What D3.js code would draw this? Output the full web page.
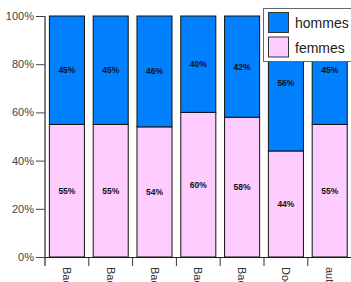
<!DOCTYPE html>
<html><head><meta charset="utf-8">
<script src="https://cdn.jsdelivr.net/npm/d3@7/dist/d3.min.js"></script>
<style>body{margin:0;background:#fff;overflow:hidden}svg{display:block}</style>
</head><body>
<script>
const categories = ["Bac", "Bac+2", "Bac+3", "Bac+4", "Bac+5", "Doctorat", "autre"];
const femmes = [55, 55, 54, 60, 58, 44, 55];
const hommes = [45, 45, 46, 40, 42, 56, 45];
const yTicks = [0, 20, 40, 60, 80, 100];
const seriesNames = ["hommes", "femmes"];
const colors = {hommes: "#0080ff", femmes: "#ffccff"};

const W = 351, H = 282;
const svg = d3.select("body").append("svg").attr("width", W).attr("height", H);
const x = d3.scaleBand().domain(categories).range([45, 351.6]).paddingInner(0.2).paddingOuter(0.1);
const y = d3.scaleLinear().domain([0, 100]).range([257, 16]);

// y axis
const ya = svg.append("g").attr("transform", "translate(45,0)")
  .call(d3.axisLeft(y).tickValues(yTicks).tickFormat(d => d + "%").tickSize(9).tickSizeOuter(0));
ya.select(".domain").remove();
ya.selectAll("line").attr("stroke", "#444");
ya.selectAll("text").attr("font-family", "Liberation Sans, Arial, sans-serif").attr("font-size", 11).attr("fill", "#444").attr("dx", "1");
svg.append("line").attr("x1", 45).attr("x2", 45).attr("y1", 16).attr("y2", 266).attr("stroke", "#555").attr("stroke-width", 1.5);

// x axis
svg.append("line").attr("x1", 45).attr("x2", W).attr("y1", 257.5).attr("y2", 257.5).attr("stroke", "#222");
const step = x.step();
categories.forEach((c, i) => {
  if (i > 0) {
    const tx = x(c) - step * x.paddingInner() / 2;
    svg.append("line").attr("x1", tx).attr("x2", tx).attr("y1", 257).attr("y2", 266).attr("stroke", "#333");
  }
});
svg.append("g").selectAll("text").data(categories).join("text")
  .attr("transform", d => `translate(${x(d) + x.bandwidth() / 2 - 4},267) rotate(90)`)
  .attr("font-family", "Liberation Sans, Arial, sans-serif").attr("font-size", 11).attr("fill", "#333")
  .text(d => d);

// bars
const data = categories.map((c, i) => ({c, femmes: femmes[i], hommes: hommes[i]}));
const g = svg.append("g");
data.forEach(d => {
  const x0 = x(d.c), bw = x.bandwidth();
  g.append("rect").attr("x", x0).attr("y", y(d.femmes)).attr("width", bw).attr("height", y(0) - y(d.femmes))
    .attr("fill", colors.femmes).attr("stroke", "#111").attr("stroke-width", 1);
  g.append("rect").attr("x", x0).attr("y", y(100)).attr("width", bw).attr("height", y(d.femmes) - y(100))
    .attr("fill", colors.hommes).attr("stroke", "#111").attr("stroke-width", 1);
  g.append("text").attr("x", x0 + bw / 2).attr("y", (y(0) + y(d.femmes)) / 2 + 3)
    .attr("text-anchor", "middle").attr("font-family", "Liberation Sans, Arial, sans-serif")
    .attr("font-size", 8.5).attr("font-weight", "bold").attr("fill", "#111").text(d.femmes + "%");
  g.append("text").attr("x", x0 + bw / 2).attr("y", (y(100) + y(d.femmes)) / 2 + 3)
    .attr("text-anchor", "middle").attr("font-family", "Liberation Sans, Arial, sans-serif")
    .attr("font-size", 8.5).attr("font-weight", "bold").attr("fill", "#111").text(d.hommes + "%");
});

// legend
const lg = svg.append("g");
lg.append("rect").attr("x", 263.5).attr("y", 8.5).attr("width", 100).attr("height", 53)
  .attr("fill", "#fff").attr("stroke", "#666");
seriesNames.forEach((s, i) => {
  lg.append("rect").attr("x", 268.5).attr("y", 12.5 + i * 24.5).attr("width", 20).attr("height", 20)
    .attr("fill", colors[s]).attr("stroke", "#333");
  lg.append("text").attr("x", 295).attr("y", 28 + i * 24.5)
    .attr("font-family", "Liberation Sans, Arial, sans-serif").attr("font-size", 14).attr("fill", "#222").text(s);
});
</script>
</body></html>
